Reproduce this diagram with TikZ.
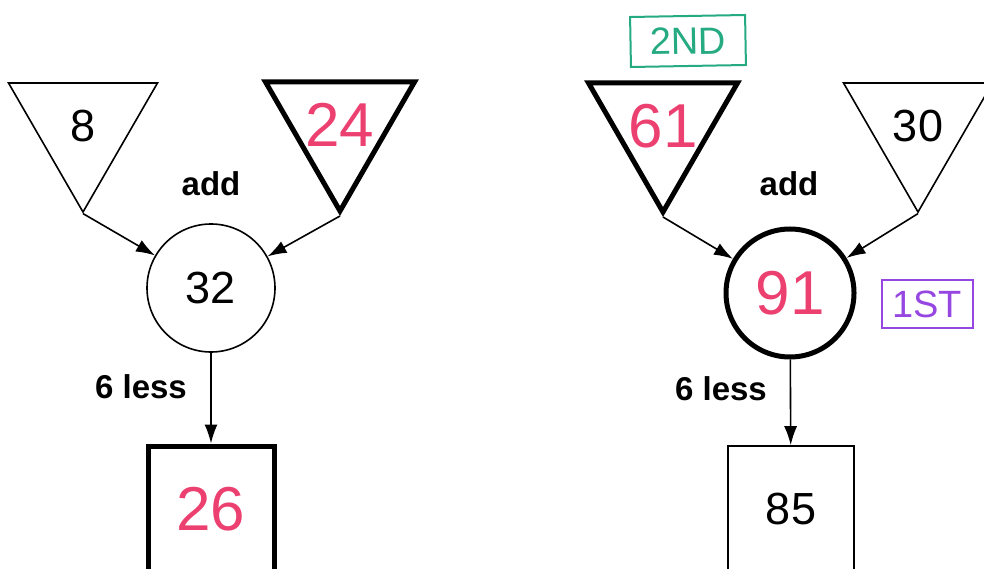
\documentclass[tikz,border=0pt]{standalone}
\usepackage{fontspec}
\setmainfont{Liberation Sans}
\usetikzlibrary{
arrows.meta,
shapes.geometric
}
\definecolor{penpink}{RGB}{236,64,112}
\definecolor{pengreen}{RGB}{38,170,130}
\definecolor{penpurple}{RGB}{150,70,225}

\begin{document}
\begin{tikzpicture}[
x=1pt,y=-1pt,
every node/.style={inner sep=0pt},
given/.style={
draw,
regular polygon,
regular polygon sides=3,
shape border rotate=180,
minimum size=172pt,
line width=1.6pt,
font=\fontsize{45}{54}\selectfont
},
total/.style={
draw,
circle,
minimum size=128pt,
line width=1.6pt,
font=\fontsize{45}{54}\selectfont
},
answer/.style={
draw,
rectangle,
minimum size=126pt,
line width=1.6pt,
font=\fontsize{45}{54}\selectfont
},
bold line/.style={line width=5pt},
written/.style={text=penpink,font=\fontsize{62}{70}\selectfont},
opname/.style={font=\bfseries\fontsize{33}{40}\selectfont},
tag/.style={
draw,
line width=2pt,
font=\fontsize{38}{44}\selectfont
},
arrow/.style={-{Latex[length=19pt,width=13pt]},line width=1.6pt}
]
\useasboundingbox (0,0) rectangle (984,569);

% left sum: 8 + 24, then 6 less
\node[given] (left8) at (83,126) {8};
\node[given,bold line,label={[written]center:24}] (left24) at (340,125) {};
\node[opname] (leftadd) at (211,184) {add};
\node[total] (left32) at (211,288) {32};
\node[opname] (leftless) at (141,387) {6 less};
\node[answer,bold line,written] (left26) at (211,509) {26};

\draw[arrow] (left8.corner 1) -- (left32);
\draw[arrow] (left24.corner 1) -- (left32);
\draw[arrow] (left32) -- (left26);

% right sum: 61 + 30, then 6 less
\node[tag,draw=pengreen,text=pengreen,minimum width=115pt,minimum height=50pt,rotate=1] (second) at (688,41) {2ND};
\node[given,bold line,label={[written]center:61}] (right61) at (663,126) {};
\node[given] (right30) at (918,126) {30};
\node[opname] (rightadd) at (789,184) {add};
\node[total,bold line,written] (right91) at (790,293) {91};
\node[tag,draw=penpurple,text=penpurple,minimum width=91pt,minimum height=48pt] (first) at (927,304) {1ST};
\node[opname] (rightless) at (721,389) {6 less};
\node[answer] (right85) at (791,509) {85};

\draw[arrow] (right61.corner 1) -- (right91);
\draw[arrow] (right30.corner 1) -- (right91);
\draw[arrow] (right91) -- (right85);

\end{tikzpicture}
\end{document}
